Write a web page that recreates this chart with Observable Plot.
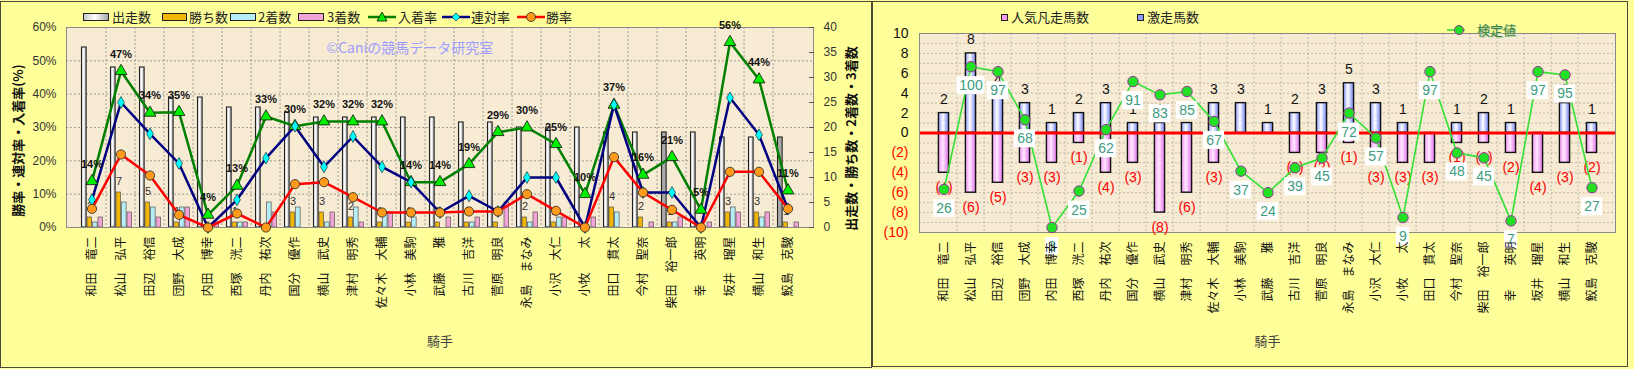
<!DOCTYPE html>
<html><head><meta charset="utf-8">
<script src="https://cdn.jsdelivr.net/npm/d3@7"></script>
<script src="https://cdn.jsdelivr.net/npm/@observablehq/plot@0.6"></script>
<style>
body{margin:0;background:#ffff99;}
#wrap{position:relative;width:1634px;height:369px;background:#ffff99;overflow:hidden;font-family:"Noto Sans CJK JP",sans-serif;}
.panel{position:absolute;box-sizing:border-box;border:1px solid #4a4a3a;}
.abs{position:absolute;white-space:nowrap;line-height:16px;font-size:13px;color:#222;}
.sw{position:absolute;box-sizing:border-box;border:1px solid #222;}
#wrap svg.plot{position:absolute;top:0;}
</style></head><body>
<div id="wrap">
  <div class="panel" style="left:0;top:1px;width:872px;height:367px;"></div>
  <div class="panel" style="left:872px;top:1px;width:756px;height:366px;"></div>
</div>
<script>
// ---------------- data ----------------
const jockeys = ["和田　竜二","松山　弘平","田辺　裕信","団野　大成","内田　博幸","西塚　洸二","丹内　祐次","国分　優作","横山　武史","津村　明秀","佐々木　大輔","小林　美駒","武藤　　雅","古川　吉洋","菅原　明良","永島　まなみ","小沢　大仁","小牧　　太","田口　貫太","今村　聖奈","柴田　裕一郎","幸　　英明","坂井　瑠星","横山　和生","鮫島　克駿"];
const starts  = [36,32,32,26,26,24,24,23,22,22,22,22,22,21,21,20,20,20,19,19,19,19,18,18,18];
const wins    = [2,7,5,1,0,1,0,3,3,2,1,1,1,1,1,2,1,0,4,2,1,0,3,3,1];
const seconds = [1,5,4,4,0,1,5,4,1,4,3,2,0,1,0,1,2,0,3,0,1,0,4,2,0];
const thirds  = [2,3,2,4,1,1,3,0,3,1,3,0,2,2,5,3,2,2,0,1,2,1,3,3,1];
const placeRate  = [13.9,46.9,34.4,34.6,3.8,12.5,33.3,30.4,31.8,31.8,31.8,13.6,13.6,19.0,28.6,30.0,25.0,10.0,36.8,15.8,21.1,5.3,55.6,44.4,11.1];
const rentaiRate = [8.3,37.5,28.1,19.2,0,8.3,20.8,30.4,18.2,27.3,18.2,13.6,4.5,9.5,4.8,15.0,15.0,0,36.8,10.5,10.5,0,38.9,27.8,5.6];
const winRate    = [5.6,21.9,15.6,3.8,0,4.2,0,13.0,13.6,9.1,4.5,4.5,4.5,4.8,4.8,10.0,5.0,0,21.1,10.5,5.3,0,16.7,16.7,5.6];
const grayStarts = ["柴田　裕一郎","鮫島　克駿"];

const gekiso = [2,8,4,3,1,2,3,1,1,1,3,3,1,2,3,5,3,1,0,1,2,1,0,3,1];   // 激走馬数
const ninki  = [4,6,5,3,3,1,4,3,8,6,3,0,0,2,2,1,3,3,3,1,1,2,4,3,2];   // 人気凡走馬数
const kentei = [26,100,97,68,3,25,62,91,83,85,67,37,24,39,45,72,57,9,97,48,45,7,97,95,27]; // 検定値

const pctTicks = [0,10,20,30,40,50,60];
const cntTicks = [0,5,10,15,20,25,30,35,40];
const diffTicks = [-10,-8,-6,-4,-2,0,2,4,6,8,10];

// ---------------- helpers ----------------
const NS = "http://www.w3.org/2000/svg";
const FJP = '"Noto Sans CJK JP", sans-serif';
const FNUM = '"Liberation Sans", Arial, sans-serif';
const defsMark = html => () => { const d = document.createElementNS(NS, "defs"); d.innerHTML = html; return d; };

const rows = jockeys.map((name, i) => ({name, starts: starts[i], wins: wins[i], seconds: seconds[i], thirds: thirds[i],
  place: placeRate[i], ren: rentaiRate[i], win: winRate[i], gray: grayStarts.includes(name)}));
const K = 60 / 40; // count axis (right, 0-40) mapped onto percent axis (left, 0-60)

// ---------------- left chart ----------------
const W1 = 872, ML1 = 66, MR1 = 59, MT1 = 27, MB1 = 142;
const BW1 = (W1 - ML1 - MR1) / jockeys.length;
const inset = (a, b) => ({insetLeft: a, insetRight: BW1 - b});
const subStyle = {stroke: "#555", strokeWidth: 0.7};

const left = Plot.plot({
  width: W1, height: 369, marginLeft: ML1, marginRight: MR1, marginTop: MT1, marginBottom: MB1,
  style: {background: "transparent", fontFamily: FNUM, overflow: "visible"},
  x: {domain: jockeys, padding: 0},
  y: {domain: [0, 60]},
  marks: [
    defsMark(`<linearGradient id="gStart" x1="0" x2="1" y1="0" y2="0"><stop offset="0" stop-color="#c8c8c8"/><stop offset="0.45" stop-color="#ffffff"/><stop offset="1" stop-color="#a8a8a8"/></linearGradient>`),
    Plot.frame({fill: "#f7ecd3", stroke: null}),
    Plot.gridY({ticks: pctTicks.slice(1, -1), stroke: "#8a8a8a", strokeOpacity: 0.8, strokeDasharray: "2,2"}),
    Plot.ruleX(jockeys.slice(1), {dx: -BW1 / 2, stroke: "#8a8a8a", strokeOpacity: 0.8, strokeDasharray: "2,2"}),
    Plot.text(["©Caniの競馬データ研究室"], {frameAnchor: "top-left", dx: 260, dy: 16, textAnchor: "start", fill: "#9c9cff", fontSize: 14, fontFamily: FJP}),
    Plot.barY(rows.filter(d => !d.gray), {x: "name", y: d => d.starts * K, fill: "url(#gStart)", stroke: "#222", strokeWidth: 1.1, ...inset(4.5, 10)}),
    Plot.barY(rows.filter(d => d.gray), {x: "name", y: d => d.starts * K, fill: "#a9a9a9", stroke: "#222", strokeWidth: 1.1, ...inset(4.5, 10)}),
    Plot.barY(rows.filter(d => d.wins > 0), {x: "name", y: d => d.wins * K, fill: "#f2b705", ...subStyle, ...inset(10, 15.5)}),
    Plot.barY(rows.filter(d => d.seconds > 0), {x: "name", y: d => d.seconds * K, fill: "#b6eef8", ...subStyle, ...inset(15.5, 21)}),
    Plot.barY(rows.filter(d => d.thirds > 0), {x: "name", y: d => d.thirds * K, fill: "#f2a4d6", ...subStyle, ...inset(21, 26.5)}),
    Plot.text(rows.filter(d => d.wins > 0), {x: "name", y: d => d.wins * K, text: d => String(d.wins), dx: -2, dy: -11, fontSize: 11, fill: "#333"}),
    Plot.frame({stroke: "#8a8a8a"}),
    Plot.line(rows, {x: "name", y: "place", stroke: "#008000", strokeWidth: 2.5}),
    Plot.line(rows, {x: "name", y: "ren", stroke: "#000080", strokeWidth: 2.5}),
    Plot.line(rows, {x: "name", y: "win", stroke: "#ff0000", strokeWidth: 2.5}),
    Plot.dot(rows, {x: "name", y: "place", symbol: "triangle", r: 4.4, fill: "#00ee00", stroke: "#111", strokeWidth: 0.8}),
    Plot.dot(rows, {x: "name", y: "ren", symbol: "diamond", r: 3.6, fill: "#00ffff", stroke: "#111", strokeWidth: 0.6}),
    Plot.dot(rows, {x: "name", y: "win", symbol: "circle", r: 4.6, fill: "#ff9a1a", stroke: "#222", strokeWidth: 0.8}),
    Plot.text(rows, {x: "name", y: "place", text: d => Math.round(d.place) + "%", dy: -17, fontSize: 11, fontWeight: "bold", fill: "#111"}),
    Plot.axisX({tickRotate: -90, tickSize: 0, tickPadding: 9, fontSize: 12, fontFamily: FJP, label: null, color: "#111"}),
    Plot.axisY({ticks: pctTicks, tickFormat: d => d + "%", tickSize: 0, tickPadding: 10, fontSize: 12, label: null, color: "#333"}),
    Plot.axisY({anchor: "right", ticks: cntTicks.map(c => c * K), tickSize: 5, dx: -5, tickFormat: () => "", label: null, color: "#555"}),
    Plot.axisY({anchor: "right", ticks: cntTicks.map(c => c * K), tickFormat: d => String(Math.round(d / K)), tickSize: 0, tickPadding: 10, fontSize: 12, label: null, color: "#333"}),
    Plot.text(["勝率・連対率・入着率(%)"], {frameAnchor: "left", dx: -48, dy: 13, rotate: -90, textAnchor: "middle", fontSize: 13, fontWeight: "bold", fontFamily: FJP, fill: "#111"}),
    Plot.text(["出走数・勝ち数・2着数・3着数"], {frameAnchor: "right", dx: 38, dy: 11, rotate: -90, textAnchor: "middle", fontSize: 13, fontWeight: "bold", fontFamily: FJP, fill: "#111"}),
    Plot.text(["騎手"], {frameAnchor: "bottom", dy: 118, fontSize: 13, fontFamily: FJP, fill: "#444"})
  ]
});
left.classList.add("plot");
left.style.left = "0px";
document.getElementById("wrap").appendChild(left);

// ---------------- right chart ----------------
const W2 = 762, ML2 = 47, MR2 = 19, MT2 = 33, MB2 = 137, H2 = 369;
const BW2 = (W2 - ML2 - MR2) / jockeys.length;
const barIn = (BW2 - 11) / 2;
const rows2 = jockeys.map((name, i) => ({name, up: gekiso[i], down: ninki[i], k: kentei[i]}));
const kY = d => -10 + d.k * 20 / 120; // secondary axis 0-120 mapped onto -10..10
const PX = 20 / (H2 - MT2 - MB2);      // units per pixel on the y scale
const boxOff = 19 * PX, boxHalf = 9 * PX;
const box = (digits, w) => Plot.barY(rows2.filter(d => String(d.k).length === digits), {
  x: "name", y1: d => kY(d) - boxOff - boxHalf, y2: d => kY(d) - boxOff + boxHalf,
  fill: "#ffffff", insetLeft: (BW2 - w) / 2, insetRight: (BW2 - w) / 2});

const right = Plot.plot({
  width: W2, height: H2, marginLeft: ML2, marginRight: MR2, marginTop: MT2, marginBottom: MB2,
  style: {background: "transparent", fontFamily: FNUM, overflow: "visible"},
  x: {domain: jockeys, padding: 0},
  y: {domain: [-10, 10]},
  marks: [
    defsMark(`<linearGradient id="gBlue" x1="0" x2="1" y1="0" y2="0"><stop offset="0" stop-color="#8f9cff"/><stop offset="0.45" stop-color="#ffffff"/><stop offset="1" stop-color="#7080f0"/></linearGradient>
              <linearGradient id="gPink" x1="0" x2="1" y1="0" y2="0"><stop offset="0" stop-color="#f59af5"/><stop offset="0.45" stop-color="#ffe6ff"/><stop offset="1" stop-color="#e070e8"/></linearGradient>`),
    Plot.frame({fill: "#f7ecd3", stroke: null}),
    Plot.gridY({ticks: d3.range(-9, 10), stroke: "#a09890", strokeOpacity: 0.6, strokeDasharray: "2,2"}),
    Plot.ruleX(jockeys.slice(1), {dx: -BW2 / 2, stroke: "#a09890", strokeOpacity: 0.6, strokeDasharray: "2,2"}),
    Plot.barY(rows2.filter(d => d.up > 0), {x: "name", y: "up", fill: "url(#gBlue)", stroke: "#111", strokeWidth: 1.4, insetLeft: barIn, insetRight: barIn}),
    Plot.barY(rows2.filter(d => d.down > 0), {x: "name", y: d => -d.down, fill: "url(#gPink)", stroke: "#111", strokeWidth: 1.4, insetLeft: barIn, insetRight: barIn}),
    Plot.ruleY([0], {stroke: "#ff0000", strokeWidth: 3}),
    Plot.frame({stroke: "#8a8a8a"}),
    Plot.text(rows2.filter(d => d.up > 0), {x: "name", y: "up", text: d => String(d.up), dy: -14, fontSize: 14, fill: "#111"}),
    Plot.text(rows2.filter(d => d.down > 0), {x: "name", y: d => -d.down, text: d => `(${d.down})`, dy: 15, fontSize: 14, fill: "#ff0000"}),
    Plot.line(rows2, {x: "name", y: kY, stroke: "#33e033", strokeWidth: 1.6}),
    Plot.dot(rows2, {x: "name", y: kY, r: 5.2, fill: "#22e022", stroke: "#993399", strokeWidth: 1}),
    box(1, 14), box(2, 22), box(3, 29),
    Plot.text(rows2, {x: "name", y: kY, text: d => String(d.k), dy: 19, fontSize: 14, fill: "#3d9b80"}),
    Plot.axisX({tickRotate: -90, tickSize: 0, tickPadding: 9, fontSize: 12, fontFamily: FJP, label: null, color: "#111"}),
    Plot.axisY({ticks: diffTicks.filter(t => t >= 0), tickSize: 0, tickPadding: 11, fontSize: 14, label: null, color: "#111"}),
    Plot.axisY({ticks: diffTicks.filter(t => t < 0), tickFormat: d => `(${-d})`, tickSize: 0, tickPadding: 11, fontSize: 14, label: null, color: "#ff0000"}),
    Plot.text(["騎手"], {frameAnchor: "bottom", dy: 113, fontSize: 13, fontFamily: FJP, fill: "#444"})
  ]
});
right.classList.add("plot");
right.style.left = "872px";
document.getElementById("wrap").appendChild(right);

// ---------------- legends (HTML) ----------------
const wrap = document.getElementById("wrap");
function add(html){ wrap.insertAdjacentHTML("beforeend", html); }
// left legend
add(`<div class="sw" style="left:83px;top:13px;width:26px;height:8px;background:linear-gradient(90deg,#c8c8c8,#fff 45%,#a8a8a8);"></div><div class="abs" style="left:112px;top:9px;">出走数</div>`);
add(`<div class="sw" style="left:162px;top:13px;width:25px;height:8px;background:#f2b705;"></div><div class="abs" style="left:189px;top:9px;">勝ち数</div>`);
add(`<div class="sw" style="left:230px;top:13px;width:26px;height:8px;background:#b6eef8;"></div><div class="abs" style="left:258px;top:9px;">2着数</div>`);
add(`<div class="sw" style="left:298px;top:13px;width:26px;height:8px;background:#f2a4d6;"></div><div class="abs" style="left:327px;top:9px;">3着数</div>`);
add(`<svg style="position:absolute;left:366px;top:9px" width="32" height="16"><line x1="2" x2="30" y1="8" y2="8" stroke="#008000" stroke-width="2.5"/><path d="M16,3 L21,12 L11,12 Z" fill="#00ee00" stroke="#111" stroke-width="0.8"/></svg><div class="abs" style="left:398px;top:9px;">入着率</div>`);
add(`<svg style="position:absolute;left:440px;top:9px" width="32" height="16"><line x1="2" x2="30" y1="8" y2="8" stroke="#000080" stroke-width="2.5"/><path d="M16,4 L20,8 L16,12 L12,8 Z" fill="#00ffff" stroke="#111" stroke-width="0.6"/></svg><div class="abs" style="left:471px;top:9px;">連対率</div>`);
add(`<svg style="position:absolute;left:515px;top:9px" width="32" height="16"><line x1="2" x2="30" y1="8" y2="8" stroke="#ff0000" stroke-width="2.5"/><circle cx="16" cy="8" r="4.5" fill="#ff9a1a" stroke="#222" stroke-width="0.8"/></svg><div class="abs" style="left:546px;top:9px;">勝率</div>`);
// right legend
add(`<div class="sw" style="left:1001px;top:14px;width:7px;height:7px;background:#f59af5;"></div><div class="abs" style="left:1011px;top:9px;">人気凡走馬数</div>`);
add(`<div class="sw" style="left:1137px;top:14px;width:7px;height:7px;background:#8f9cff;"></div><div class="abs" style="left:1147px;top:9px;">激走馬数</div>`);
add(`<svg style="position:absolute;left:1445px;top:22px" width="22" height="16"><line x1="2" x2="20" y1="8" y2="8" stroke="#33e033" stroke-width="1.6"/><circle cx="14" cy="8" r="4.5" fill="#22e022" stroke="#993399" stroke-width="1"/></svg><div class="abs" style="left:1477px;top:22px;color:#3a8a3a;text-shadow:1px 1px 0 #b8c8a8;">検定値</div>`);
</script>
</body></html>
